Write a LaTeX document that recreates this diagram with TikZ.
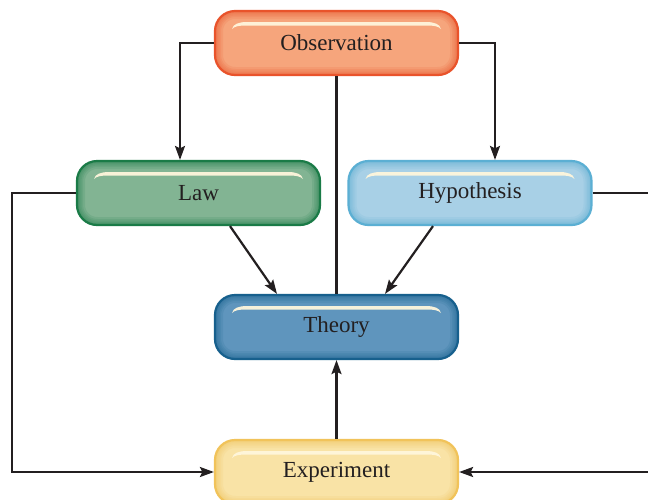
\documentclass[tikz,border=0pt]{standalone}
\usepackage{fontspec}
\setmainfont{Liberation Serif}
\usetikzlibrary{arrows.meta,calc}
\definecolor{txt}{HTML}{231F20}
\definecolor{obsfill}{HTML}{F6A57C}\definecolor{obsdraw}{HTML}{E9532B}
\definecolor{lawfill}{HTML}{82B493}\definecolor{lawdraw}{HTML}{1A7B47}
\definecolor{hypfill}{HTML}{A8D0E6}\definecolor{hypdraw}{HTML}{5BAFD3}
\definecolor{thefill}{HTML}{5F95BD}\definecolor{thedraw}{HTML}{17608D}
\definecolor{expfill}{HTML}{F9E3A6}\definecolor{expdraw}{HTML}{F1C35A}
\definecolor{cream}{HTML}{FFF6DC}
\tikzset{
  x=1pt,y=1pt,
  glossy/.style 2 args={
    rectangle, rounded corners=20pt, minimum width=243pt, minimum height=64pt,
    fill=#1, draw=#2, line width=2.2pt, text=txt,
    font=\fontsize{23}{27}\selectfont,
    path picture={
      \coordinate (ppnw) at (path picture bounding box.north west);
      \coordinate (ppne) at (path picture bounding box.north east);
      \foreach \w in {16,12,9,6,3.5}{
        \draw[#2, opacity=.13, line width=\w pt, rounded corners=20pt]
          (path picture bounding box.south west) rectangle (path picture bounding box.north east);
      }
      \fill[cream, opacity=.95, sharp corners]
        ($(ppnw)+(17,-18)$) .. controls +(1,5) and +(-8,0) .. ($(ppnw)+(32,-11)$)
        -- ($(ppne)+(-32,-11)$) .. controls +(8,0) and +(-1,5) .. ($(ppne)+(-17,-18)$)
        .. controls +(-3,3) and +(8,0) .. ($(ppne)+(-32,-14.5)$)
        -- ($(ppnw)+(32,-14.5)$) .. controls +(-8,0) and +(3,3) .. cycle;
    }
  },
  conn/.style={draw=txt, line width=2.2pt},
  arr/.style={conn, -{Stealth[length=14pt,width=10pt,inset=2.5pt]}}
}
\begin{document}
\begin{tikzpicture}
\useasboundingbox (0,0) rectangle (648,-499);
\clip (0,0) rectangle (648,-499);
\fill[white] (0,0) rectangle (648,-499);

\node[glossy={obsfill}{obsdraw}] (obs) at (336.5,-43) {Observation};
\node[glossy={lawfill}{lawdraw}] (law) at (198.5,-193) {Law};
\node[glossy={hypfill}{hypdraw}] (hyp) at (470,-193) {Hypothesis};
\node[glossy={thefill}{thedraw}] (the) at (336.5,-327) {Theory};
\node[glossy={expfill}{expdraw}] (exp) at (336.5,-472) {Experiment};

\coordinate (cL) at (12,-193);
\coordinate (cR) at (665,-193);

\draw[arr] (obs.west) -| ($(law.north)+(-18.5,0)$);
\draw[arr] (obs.east) -| ($(hyp.north)+(25,0)$);
\draw[conn] (obs.south) -- (the.north);
\draw[arr] ($(law.south)+(31.5,0)$) -- ($(the.north)+(-59.5,0)$);
\draw[arr] ($(hyp.south)+(-37,0)$) -- ($(the.north)+(48.5,0)$);
\draw[arr] (exp.north) -- (the.south);
\draw[arr] (law.west) -- (cL) |- (exp.west);
\draw[arr] (hyp.east) -- (cR) |- (exp.east);
\end{tikzpicture}
\end{document}
